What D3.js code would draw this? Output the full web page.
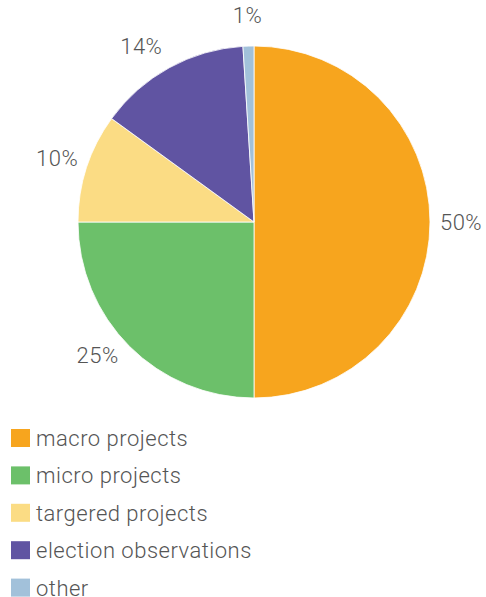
<!DOCTYPE html>
<html>
<head>
<meta charset="utf-8">
<script src="https://cdn.jsdelivr.net/npm/d3@7"></script>
<style>
  body { margin: 0; background: #fff; }
  text { font-family: "Roboto", "Liberation Sans", sans-serif; font-weight: 300; fill: #555; letter-spacing: 0.5px; }
</style>
</head>
<body>
<div id="chart"></div>
<script>
const categories = ["macro projects", "micro projects", "targered projects", "election observations", "other"];
const shares = [50, 25, 10, 14, 1];
const colors = ["#F7A51E", "#6CC06A", "#FBDC84", "#6054A2", "#A2C1DA"];

const width = 486, height = 597;
const cx = 254, cy = 222, radius = 176, labelRadius = 207;

const svg = d3.select("#chart").append("svg")
  .attr("width", width)
  .attr("height", height);

const data = categories.map((c, i) => ({label: c, value: shares[i], color: colors[i]}));

const pie = d3.pie().sort(null).value(d => d.value);
const arc = d3.arc().innerRadius(0).outerRadius(radius);
const labelArc = d3.arc().innerRadius(labelRadius).outerRadius(labelRadius);

const g = svg.append("g").attr("transform", `translate(${cx},${cy})`);
const arcs = pie(data);

g.selectAll("path")
  .data(arcs)
  .enter()
  .append("path")
  .attr("d", arc)
  .attr("fill", d => d.data.color)
  .attr("stroke", "#fff")
  .attr("stroke-width", 0.8);

// the source nudges a couple of labels off the plain centroid
const nudge = {"micro projects": [-10, -13], "election observations": [-13, 6]};

g.selectAll("text.pct")
  .data(arcs)
  .enter()
  .append("text")
  .attr("class", "pct")
  .attr("transform", d => {
    let [x, y] = labelArc.centroid(d);
    let n = nudge[d.data.label] || [0, 0];
    return `translate(${x + n[0]},${y + n[1]})`;
  })
  .attr("text-anchor", "middle")
  .attr("dominant-baseline", "central")
  .style("font-size", "22px")
  .text(d => d.data.value + "%");

// legend
const legendY = d3.scaleBand().domain(categories).range([429, 616]);
const legend = svg.append("g");
const rows = legend.selectAll("g")
  .data(data)
  .enter()
  .append("g")
  .attr("transform", d => `translate(11,${legendY(d.label)})`);

rows.append("rect")
  .attr("width", 19)
  .attr("height", 18)
  .attr("fill", d => d.color);

rows.append("text")
  .attr("x", 25)
  .attr("y", 17)
  .style("font-size", "22px")
  .text(d => d.label);
</script>
</body>
</html>
